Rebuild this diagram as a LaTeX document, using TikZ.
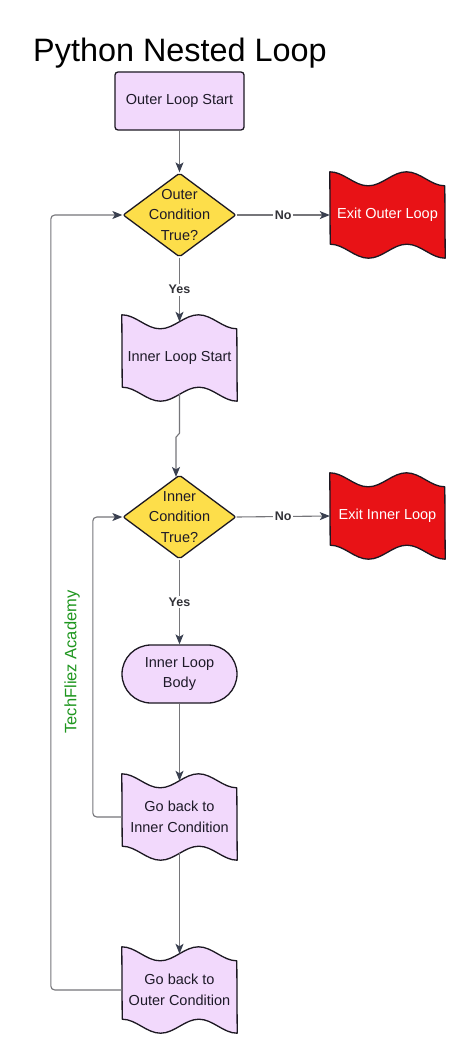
\documentclass[tikz,border=0pt]{standalone}
\usepackage{fontspec}
\setmainfont{Liberation Sans}
\usetikzlibrary{shapes.geometric,arrows.meta,backgrounds,calc}
\definecolor{lav}{RGB}{242,217,252}
\definecolor{ylw}{RGB}{253,222,74}
\definecolor{redx}{RGB}{232,18,22}
\definecolor{edgec}{RGB}{28,24,34}
\definecolor{linec}{RGB}{118,118,122}
\definecolor{tipc}{RGB}{58,64,80}
\definecolor{txtc}{RGB}{30,26,40}
\definecolor{lblc}{RGB}{50,50,56}
\definecolor{brandgreen}{RGB}{30,150,30}
\newcommand\wavq{19.1667}
\newcommand\wava{7}
\newcommand\wavebg[2]{%
  \path[draw=edgec,line width=1.3pt,fill=#2,line join=round]
    ([yshift=\wava pt]#1.north west)
      cos ++(\wavq,\wava) sin ++(\wavq,\wava) cos ++(\wavq,-\wava)
      sin ++(\wavq,-\wava) cos ++(\wavq,\wava) sin ++(\wavq,\wava)
    -- ([yshift=-\wava pt]#1.south east)
      cos ++(-\wavq,-\wava) sin ++(-\wavq,-\wava) cos ++(-\wavq,\wava)
      sin ++(-\wavq,\wava) cos ++(-\wavq,-\wava) sin ++(-\wavq,-\wava)
    -- cycle;}
\tikzset{
  nodefont/.style={font=\fontsize{14.5}{20.5}\selectfont, text=txtc, align=center},
  boxnode/.style={nodefont, draw=edgec, line width=1.3pt, fill=lav, rounded corners=3pt,
    minimum width=129pt, minimum height=58pt, inner sep=0pt},
  dianode/.style={shape=diamond, draw=edgec, line width=1.3pt, fill=ylw, rounded corners=2pt,
    minimum width=113pt, minimum height=84pt, aspect=1.345, inner sep=0pt},
  diatext/.style={nodefont, inner sep=0pt},
  wavenode/.style={nodefont, minimum width=115pt, minimum height=72pt, inner sep=0pt},
  exittext/.style={wavenode, text=white},
  pillnode/.style={nodefont, draw=edgec, line width=1.3pt, fill=lav, rounded corners=29pt,
    minimum width=115pt, minimum height=58pt, inner sep=0pt},
  conn/.style={draw=linec, line width=1.1pt,
    -{Stealth[length=10pt,width=8pt,inset=2.5pt,color=tipc]}},
  lbl/.style={font=\bfseries\fontsize{12.5}{14}\selectfont, text=lblc, fill=white, inner sep=1.5pt},
}
\begin{document}
\begin{tikzpicture}[x=1pt,y=-1pt]
\useasboundingbox (0,0) rectangle (474,1062);

\node[anchor=base west, inner sep=0pt, font=\fontsize{32.4}{38}\selectfont] (title) at (33,62) {Python Nested Loop};

\node[boxnode] (ols) at (179.5,101) {Outer Loop Start};

\node[dianode] (ocd) at (179.5,215) {};
\node[diatext] (ocdt) at (179.5,215) {Outer\\Condition\\True?};

\node[exittext] (exo) at (387.5,215) {Exit Outer Loop};
\node[wavenode] (ils) at (179.5,358) {Inner Loop Start};

\node[dianode] (icd) at (179.5,517) {};
\node[diatext] (icdt) at (179.5,517) {Inner\\Condition\\True?};

\node[exittext] (exi) at (387.5,516) {Exit Inner Loop};

\node[pillnode] (ilb) at (179.5,674) {Inner Loop\\Body};

\node[wavenode] (gbi) at (179.5,817) {Go back to\\Inner Condition};
\node[wavenode] (gbo) at (179.5,990) {Go back to\\Outer Condition};

\begin{scope}[on background layer]
  \fill[white] (0,0) rectangle (474,1062);
  \wavebg{exo}{redx}
  \wavebg{exi}{redx}
  \wavebg{ils}{lav}
  \wavebg{gbi}{lav}
  \wavebg{gbo}{lav}
\end{scope}

\node[rotate=90, text=brandgreen, font=\fontsize{16.5}{20}\selectfont] (tf) at (72,662) {TechFliez Academy};

\draw[conn] (ols.south) -- (ocd.north);
\draw[conn] (ocd.east) -- node[lbl] (no1) {No} (exo.west);
\draw[conn] (ocd.south) -- node[lbl] (yes1) {Yes} (ils.north);
\draw[conn] (ils.south) -- ++(0,39) -- ++(-3.5,4) -- ([xshift=-3.5pt,yshift=-2.6pt]icd.north);
\draw[conn] (icd.east) -- node[lbl] (no2) {No} (exi.west);
\draw[conn] (icd.south) -- node[lbl] (yes2) {Yes} (ilb.north);
\draw[conn] (ilb.south) -- (gbi.north);
\draw[conn, rounded corners=4pt] (gbi.west) -- ++(-29,0) |- (icd.west);
\draw[conn] (gbi.south) -- (gbo.north);
\draw[conn, rounded corners=4pt] (gbo.west) -- ++(-71,0) |- (ocd.west);
\end{tikzpicture}
\end{document}
